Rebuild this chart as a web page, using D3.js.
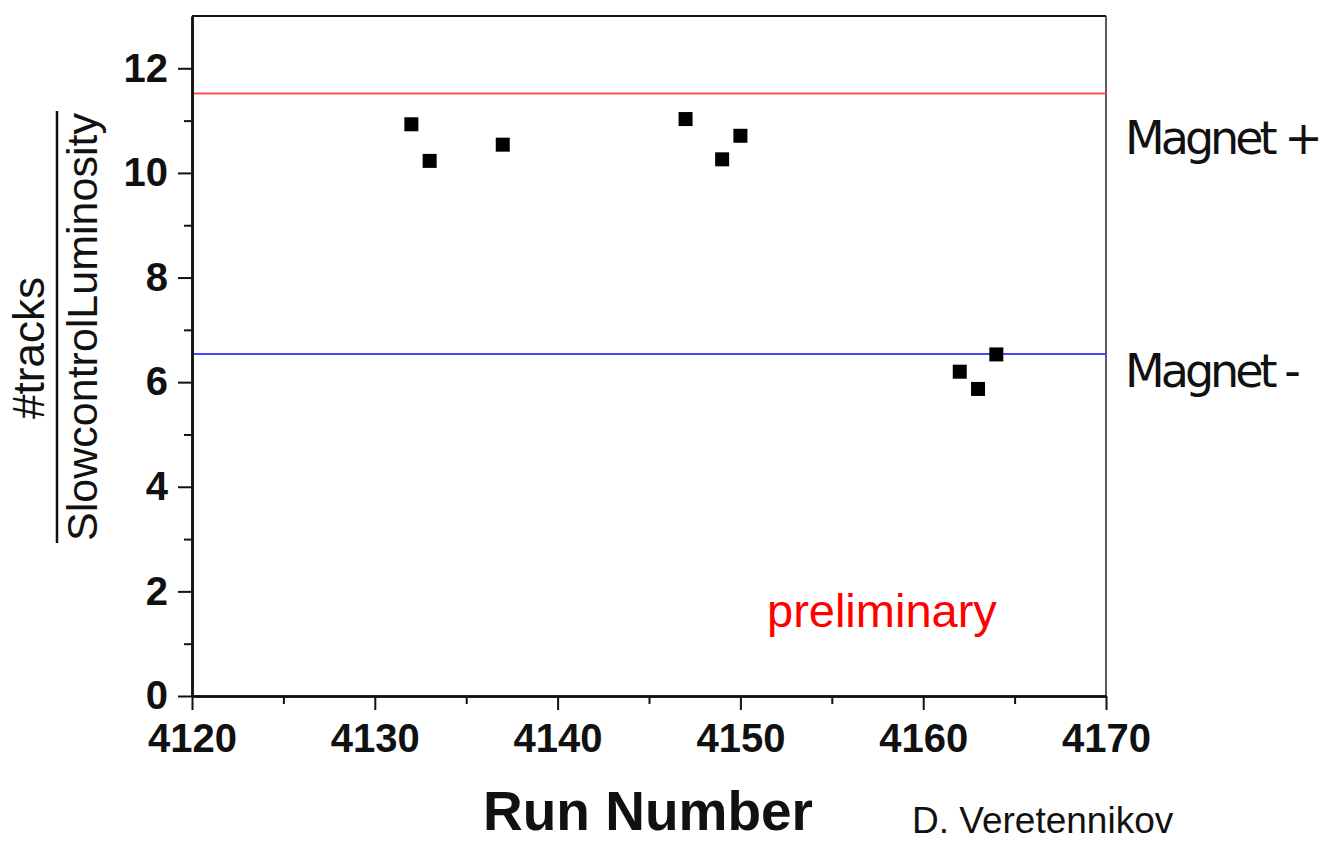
<!DOCTYPE html>
<html>
<head>
<meta charset="utf-8">
<script src="https://d3js.org/d3.v7.min.js"></script>
<style>
  html, body { margin: 0; padding: 0; background: #fff; }
  svg { display: block; }
</style>
</head>
<body>
<svg id="chart" width="1335" height="842"></svg>
<script>
// ---- data ----
const runs   = [4132, 4133, 4137, 4147, 4149, 4150, 4162, 4163, 4164];
const values = [10.93, 10.23, 10.54, 11.03, 10.26, 10.71, 6.20, 5.87, 6.53];
const refLines = [
  { value: 11.52, color: "#ff5050", label: "Magnet +" },
  { value: 6.54,  color: "#4646ff", label: "Magnet -" }
];
const xTicks = [4120, 4130, 4140, 4150, 4160, 4170];
const xMinorTicks = [4125, 4135, 4145, 4155, 4165];
const yTicks = [0, 2, 4, 6, 8, 10, 12];
const yMinorTicks = [1, 3, 5, 7, 9, 11];
const xDomain = [4120, 4170];
const yDomain = [0, 13];

// ---- layout ----
const svg = d3.select("#chart");
const L = 192, T = 16, R = 1106, B = 696;
const x = d3.scaleLinear().domain(xDomain).range([L, R]);
const y = d3.scaleLinear().domain(yDomain).range([B, T]);

const sans = "'Liberation Sans', Arial, Helvetica, sans-serif";

// frame: top & right
svg.append("line").attr("x1", L).attr("x2", R).attr("y1", T).attr("y2", T)
  .attr("stroke", "#111").attr("stroke-width", 2);
svg.append("line").attr("x1", R).attr("x2", R).attr("y1", T).attr("y2", B)
  .attr("stroke", "#333").attr("stroke-width", 1.6);

// reference lines
svg.selectAll("line.ref").data(refLines).enter().append("line")
  .attr("class", "ref")
  .attr("x1", L).attr("x2", R)
  .attr("y1", d => y(d.value)).attr("y2", d => y(d.value))
  .attr("stroke", d => d.color).attr("stroke-width", 2);

// axes
const xAxis = d3.axisBottom(x).tickValues(xTicks).tickSize(14).tickSizeOuter(0).tickPadding(14)
  .tickFormat(d3.format("d"));
const xMinor = d3.axisBottom(x).tickValues(xMinorTicks).tickSize(8).tickSizeOuter(0).tickFormat("");
const yAxis = d3.axisLeft(y).tickValues(yTicks).tickSize(14).tickSizeOuter(0).tickPadding(10)
  .tickFormat(d3.format("d"));
const yMinor = d3.axisLeft(y).tickValues(yMinorTicks).tickSize(8).tickSizeOuter(0).tickFormat("");

function styleAxis(g) {
  g.select(".domain").attr("stroke", "#111").attr("stroke-width", 2.5);
  g.selectAll(".tick line").attr("stroke", "#111").attr("stroke-width", 2);
  g.selectAll(".tick text").attr("fill", "#111")
    .style("font-family", sans).style("font-weight", "bold").style("font-size", "40px");
}

svg.append("g").attr("transform", `translate(0,${B})`).call(xMinor).call(styleAxis);
svg.append("g").attr("transform", `translate(${L},0)`).call(yMinor).call(styleAxis);
svg.append("g").attr("transform", `translate(0,${B})`).call(xAxis).call(styleAxis);
svg.append("g").attr("transform", `translate(${L},0)`).call(yAxis).call(styleAxis);

// points
const pts = runs.map((r, i) => ({ run: r, v: values[i] }));
const ms = 14;
svg.selectAll("rect.pt").data(pts).enter().append("rect")
  .attr("class", "pt")
  .attr("x", d => x(d.run) - ms / 2)
  .attr("y", d => y(d.v) - ms / 2)
  .attr("width", ms).attr("height", ms)
  .attr("fill", "#000");

// right labels
svg.selectAll("text.mag").data(refLines).enter().append("text")
  .attr("class", "mag")
  .attr("x", 1125)
  .attr("y", (d, i) => y(d.value) + [61, 33][i])
  .attr("fill", "#111")
  .style("font-family", "'DejaVu Sans', sans-serif")
  .style("font-size", "46px")
  .style("letter-spacing", "-4px")
  .text(d => d.label);

// preliminary
svg.append("text").attr("x", 767).attr("y", 627)
  .attr("fill", "#ff0000")
  .style("font-family", sans).style("font-size", "47px")
  .text("preliminary");

// x title
svg.append("text").attr("x", 648).attr("y", 830)
  .attr("text-anchor", "middle")
  .attr("fill", "#111")
  .style("font-family", sans).style("font-weight", "bold").style("font-size", "55px")
  .text("Run Number");

// author
svg.append("text").attr("x", 912).attr("y", 833)
  .attr("fill", "#111")
  .style("font-family", sans).style("font-size", "37px")
  .text("D. Veretennikov");

// y title as fraction (rotated)
const cy = 327;
const yt = svg.append("g").attr("transform", `translate(0,${cy}) rotate(-90)`);
yt.append("text").attr("x", -21).attr("y", 44)
  .attr("text-anchor", "middle").attr("fill", "#111")
  .style("font-family", sans).style("font-size", "44px")
  .text("#tracks");
yt.append("line").attr("x1", -216).attr("x2", 216).attr("y1", 57).attr("y2", 57)
  .attr("stroke", "#111").attr("stroke-width", 2.5);
yt.append("text").attr("x", 0).attr("y", 97)
  .attr("text-anchor", "middle").attr("fill", "#111")
  .style("font-family", sans).style("font-size", "43px")
  .text("SlowcontrolLuminosity");
</script>
</body>
</html>
